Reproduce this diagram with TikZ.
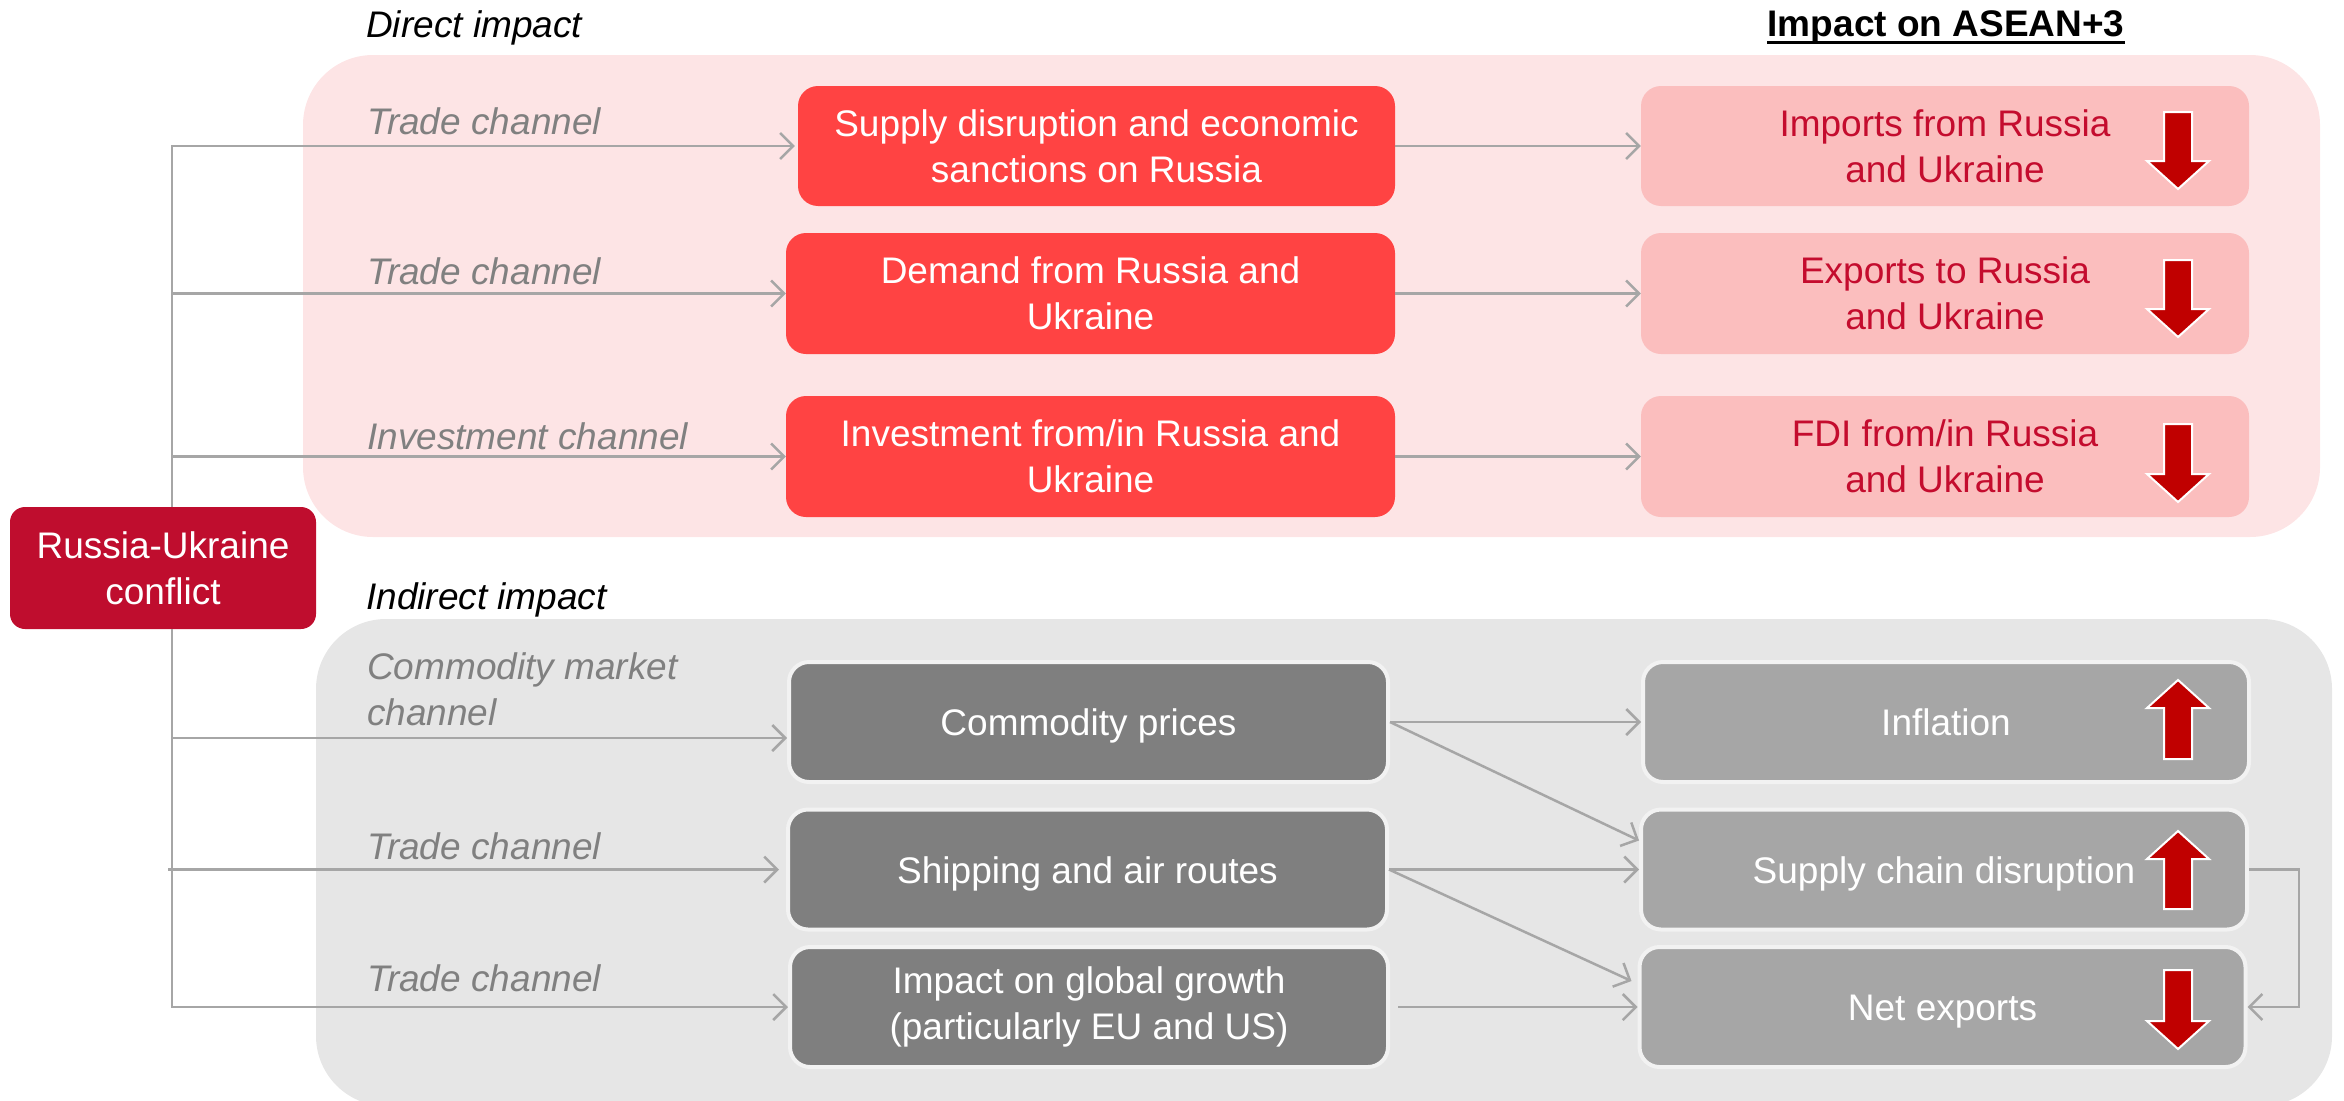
\documentclass[tikz,border=0pt]{standalone}
\usepackage{fontspec}
\setmainfont{Liberation Sans}
\usetikzlibrary{arrows.meta}
\definecolor{conflictred}{RGB}{191,13,46}
\definecolor{boxred}{RGB}{255,67,67}
\definecolor{pinkpanel}{RGB}{253,228,229}
\definecolor{pinkbox}{RGB}{251,190,190}
\definecolor{arrred}{RGB}{192,0,0}
\definecolor{crimsontext}{RGB}{196,12,46}
\definecolor{graypanel}{RGB}{230,230,230}
\definecolor{darkbox}{RGB}{127,127,127}
\definecolor{lightbox}{RGB}{166,166,166}
\definecolor{boxedge}{RGB}{242,242,242}
\definecolor{chantext}{RGB}{128,128,128}
\definecolor{connc}{RGB}{166,166,166}
\newcommand\fsz{\fontsize{37}{46}\selectfont}
\newcommand\BArrDown[3]{%
  \filldraw[fill=arrred,draw=white,line width=2pt,line join=miter]
   ({#1-14},{#2}) -- ({#1+14},{#2}) -- ({#1+14},{#3-28}) -- ({#1+31},{#3-28})
   -- ({#1},{#3}) -- ({#1-31},{#3-28}) -- ({#1-14},{#3-28}) -- cycle;}
\newcommand\BArrUp[3]{%
  \filldraw[fill=arrred,draw=white,line width=2pt,line join=miter]
   ({#1-14},{#3}) -- ({#1+14},{#3}) -- ({#1+14},{#2+28}) -- ({#1+31},{#2+28})
   -- ({#1},{#2}) -- ({#1-31},{#2+28}) -- ({#1-14},{#2+28}) -- cycle;}
\tikzset{
  basebox/.style={rounded corners=20pt, inner sep=0pt, align=center, font=\fsz},
  oneline/.style={text height=27pt, text depth=0pt},
  redbox/.style={basebox, fill=boxred, text=white},
  pinkbx/.style={basebox, fill=pinkbox, text=crimsontext},
  darkbx/.style={basebox, fill=darkbox, draw=boxedge, line width=4pt, text=white},
  lightbx/.style={basebox, fill=lightbox, draw=boxedge, line width=4pt, text=white},
  chan/.style={anchor=west, inner sep=0pt, align=left, font=\fsz\itshape, text=chantext},
  conn/.style={draw=connc, line width=2.5pt, -{Straight Barb[length=13pt,width=26pt,line width=2.5pt]}},
}
\begin{document}
\begin{tikzpicture}[x=1pt,y=-1pt]
\useasboundingbox (0,0) rectangle (2344,1100);
\clip (0,0) rectangle (2344,1100);
% panels
\fill[pinkpanel, rounded corners=70pt] (303,55) rectangle (2320,537);
\fill[graypanel, rounded corners=70pt] (316,619) rectangle (2332,1106);
% headings
\node[anchor=west, inner sep=0pt, font=\fsz\itshape] (hdirect) at (366,28) {Direct impact};
\node[anchor=west, inner sep=0pt, font=\fsz\itshape] (hindirect) at (366,600) {Indirect impact};
\node[anchor=base, inner sep=0pt, font=\fsz\bfseries] (hasean) at (1946,36) {Impact on ASEAN+3};
\draw[line width=3pt] ([yshift=-6pt]hasean.base west) -- ([yshift=-6pt]hasean.base east);
% channel labels
\node[chan] (l1) at (367,121) {Trade channel};
\node[chan] (l2) at (367,271) {Trade channel};
\node[chan] (l3) at (367,436) {Investment channel};
\node[chan] (l4) at (367,689) {Commodity market\\channel};
\node[chan] (l5) at (367,846) {Trade channel};
\node[chan] (l6) at (367,978) {Trade channel};
% conflict
\node[basebox, rounded corners=15pt, fill=conflictred, text=white, minimum width=306pt, minimum height=122pt] (conf) at (163,568) {Russia-Ukraine\\conflict};
% direct middle
\node[redbox, minimum width=597pt, minimum height=120pt] (b1) at (1096.5,146) {Supply disruption and economic\\sanctions on Russia};
\node[redbox, minimum width=609pt, minimum height=121pt] (b2) at (1090.5,293.5) {Demand from Russia and\\Ukraine};
\node[redbox, minimum width=609pt, minimum height=121pt] (b3) at (1090.5,456.5) {Investment from/in Russia and\\Ukraine};
% direct right
\node[pinkbx, minimum width=608pt, minimum height=120pt] (r1) at (1945,146) {Imports from Russia\\and Ukraine};
\node[pinkbx, minimum width=608pt, minimum height=121pt] (r2) at (1945,293.5) {Exports to Russia\\and Ukraine};
\node[pinkbx, minimum width=608pt, minimum height=121pt] (r3) at (1945,456.5) {FDI from/in Russia\\and Ukraine};
% indirect middle
\node[darkbx, oneline, minimum width=599pt, minimum height=120pt] (c1) at (1088.5,722) {Commodity prices};
\node[darkbx, oneline, minimum width=599pt, minimum height=120pt] (c2) at (1087.5,869.5) {Shipping and air routes};
\node[darkbx, minimum width=598pt, minimum height=120pt] (c3) at (1089,1007) {Impact on global growth\\(particularly EU and US)};
% indirect right
\node[lightbx, oneline, minimum width=606pt, minimum height=120pt] (d1) at (1946,722) {Inflation};
\node[lightbx, oneline, minimum width=606pt, minimum height=120pt] (d2) at (1944,869.5) {Supply chain disruption};
\node[lightbx, oneline, minimum width=606pt, minimum height=120pt] (d3) at (1942.5,1007) {Net exports};
% trunk connectors
\coordinate (tr) at (172,0);
\coordinate (c1in) at ([yshift=-16pt]c1.west);
\draw[conn, shorten >=3pt] (conf.north -| tr) |- (b1.west);
\draw[conn] (tr |- b2.west) -- (b2.west);
\draw[conn] (tr |- b3.west) -- (b3.west);
\draw[conn] (tr |- c1in) -- (c1in);
\draw[conn, shorten >=7pt] ([xshift=-4pt]tr |- c2.west) -- (c2.west);
\draw[conn] (conf.south -| tr) |- (c3.west);
% right connectors
\draw[conn] (b1.east) -- (r1.west);
\draw[conn] (b2.east) -- (r2.west);
\draw[conn] (b3.east) -- (r3.west);
\draw[conn] (c1.east) -- (d1.west);
\draw[conn] (c1.east) -- ([yshift=29pt]d2.west);
\draw[conn] (c2.east) -- (d2.west);
\draw[conn] (c2.east) -- ([xshift=-6pt,yshift=26pt]d3.west);
\draw[conn] ([xshift=8pt]c3.east) -- (d3.west);
\draw[conn] (d2.east) -- ++(50,0) |- (d3.east);
% block arrows
\BArrDown{2178}{112}{189}
\BArrDown{2178}{260}{337}
\BArrDown{2178}{424}{502}
\BArrUp{2178}{680}{759}
\BArrUp{2178}{831}{909}
\BArrDown{2178}{970}{1049}
\end{tikzpicture}
\end{document}
